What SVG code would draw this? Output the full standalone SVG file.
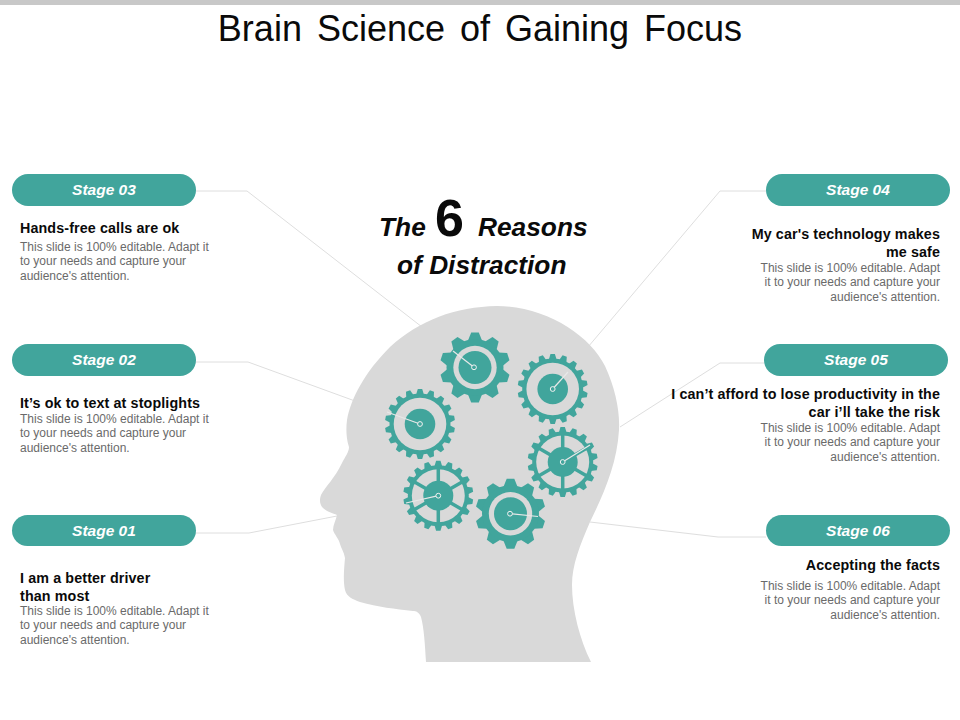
<svg xmlns="http://www.w3.org/2000/svg" width="960" height="720" viewBox="0 0 960 720">
<style>
text{font-family:"Liberation Sans",Arial,sans-serif}
.pill{fill:#41a59c}
.st{font-size:15.5px;font-weight:700;font-style:italic;fill:#fff;text-anchor:middle}
.h{font-size:14.3px;letter-spacing:.12px;font-weight:700;fill:#0a0a0a}
.b{font-size:12px;fill:#6a6a6a}
.r{text-anchor:end}
.c{font-size:26.300px;font-weight:700;font-style:italic;fill:#0a0a0a}
.con{fill:none;stroke:#dedede;stroke-width:1}
.t{fill:#41a59c}
.g{fill:#d9d9d9}
.spk{stroke:#41a59c;stroke-width:3.500}
.ptr{stroke:#e8e8e8;stroke-width:1.200;fill:none}
.hub{fill:#41a59c;stroke:#f2f2f2;stroke-width:1}
</style>
<defs>
<polygon id="toothA" class="t" points="-7,-27 -3.800,-35 3.800,-35 7,-27"/>
<polygon id="toothB" class="t" points="-4,-29 -2.200,-35 2.200,-35 4,-29"/>
<g id="teethA">
<use href="#toothA"/><use href="#toothA" transform="rotate(36)"/><use href="#toothA" transform="rotate(72)"/><use href="#toothA" transform="rotate(108)"/><use href="#toothA" transform="rotate(144)"/><use href="#toothA" transform="rotate(180)"/><use href="#toothA" transform="rotate(216)"/><use href="#toothA" transform="rotate(252)"/><use href="#toothA" transform="rotate(288)"/><use href="#toothA" transform="rotate(324)"/>
</g>
<g id="teethB">
<use href="#toothB"/><use href="#toothB" transform="rotate(20)"/><use href="#toothB" transform="rotate(40)"/><use href="#toothB" transform="rotate(60)"/><use href="#toothB" transform="rotate(80)"/><use href="#toothB" transform="rotate(100)"/><use href="#toothB" transform="rotate(120)"/><use href="#toothB" transform="rotate(140)"/><use href="#toothB" transform="rotate(160)"/><use href="#toothB" transform="rotate(180)"/><use href="#toothB" transform="rotate(200)"/><use href="#toothB" transform="rotate(220)"/><use href="#toothB" transform="rotate(240)"/><use href="#toothB" transform="rotate(260)"/><use href="#toothB" transform="rotate(280)"/><use href="#toothB" transform="rotate(300)"/><use href="#toothB" transform="rotate(320)"/><use href="#toothB" transform="rotate(340)"/>
</g>
<g id="gearA">
<use href="#teethA"/>
<circle class="t" r="28.500"/><circle class="g" r="21.700"/><circle class="t" r="16.500"/>
</g>
<g id="gearB">
<use href="#teethB"/>
<circle class="t" r="30.500"/><circle class="g" r="26.300"/><circle class="t" r="15.300"/>
</g>
<g id="gearC">
<use href="#teethB"/>
<circle class="t" r="30.500"/><circle class="g" r="26.500"/>
<path class="spk" d="M0-28V28M-24.200-14 24.200 14M-24.200 14 24.200-14"/>
<circle class="t" r="15"/>
</g>
</defs>
<rect width="960" height="5" fill="#c8c8c8"/>
<text x="480" y="41" font-size="36" fill="#0a0a0a" text-anchor="middle" word-spacing="5">Brain Science of Gaining Focus</text>

<g id="connectors">
<path class="con" d="M196 191H247L422 327"/>
<path class="con" d="M196 362H248L355 401"/>
<path class="con" d="M196 533H249L337 516"/>
<path class="con" d="M766 191H720L588 347"/>
<path class="con" d="M764 363H720L620 427"/>
<path class="con" d="M766 537H718L590 522"/>
</g>

<g id="head">
<path fill="#d9d9d9" d="M426 662C425 645 424 628 421 617C419 612 416 611 413 611C395 609 378 607 360 602C352 599 347 597 345 590C343 580 344 570 345 558C344 552 341 548 340 544C339 539 334 534 333 530C333 525 336 520 337 515C333 513 327 512 323 508C320 505 319 500 321 495C325 487 335 478 342 463C345 457 349 452 349 447C346 438 346 428 347 420C351 398 365 372 390 347C420 320 455 307 497 306C545 306 590 335 605 366C615 388 620 410 619 430C617 465 603 495 590 522C580 545 572 565 572 585C572 610 580 640 591 662Z"/>
</g>

<g id="gear-1"><use href="#gearA" x="475" y="367.500"/><path class="ptr" d="M474 367.300L453 351"/><circle class="hub" cx="474" cy="367.300" r="2.400"/></g>
<g id="gear-2"><use href="#gearB" x="552.700" y="389"/><path class="ptr" d="M552.700 389L568 372"/><circle class="hub" cx="552.700" cy="389" r="2.400"/></g>
<g id="gear-3"><use href="#gearB" x="420" y="424"/><path class="ptr" d="M420 424L387 412"/><circle class="hub" cx="420" cy="424" r="2.400"/></g>
<g id="gear-4"><use href="#gearC" x="562.700" y="462"/><path class="ptr" d="M562.700 462L590 445"/><circle class="hub" cx="562.700" cy="462" r="2.400"/></g>
<g id="gear-5"><use href="#gearC" x="438.300" y="495.700"/><path class="ptr" d="M438.300 495.700L406 503"/><circle class="hub" cx="438.300" cy="495.700" r="2.400"/></g>
<g id="gear-6"><use href="#gearA" x="510.500" y="513.700"/><path class="ptr" d="M510 513.700L538 516.500"/><circle class="hub" cx="510" cy="513.700" r="2.400"/></g>

<g id="center-title">
<text class="c" x="379" y="236">The</text>
<text x="435" y="236" font-size="52" font-weight="700" fill="#0a0a0a">6</text>
<text class="c" x="478" y="236">Reasons</text>
<text class="c" x="397" y="274">of Distraction</text>
</g>

<g id="stage-03">
<rect class="pill" x="12" y="174" width="184" height="32" rx="16"/>
<text class="st" x="104" y="195">Stage 03</text>
<text class="h" x="20" y="233">Hands-free calls are ok</text>
<text class="b" x="20" y="251">This slide is 100% editable. Adapt it</text>
<text class="b" x="20" y="265">to your needs and capture your</text>
<text class="b" x="20" y="280">audience's attention.</text>
</g>
<g id="stage-02">
<rect class="pill" x="12" y="344" width="184" height="32" rx="16"/>
<text class="st" x="104" y="365">Stage 02</text>
<text class="h" x="20" y="408">It’s ok to text at stoplights</text>
<text class="b" x="20" y="423">This slide is 100% editable. Adapt it</text>
<text class="b" x="20" y="437">to your needs and capture your</text>
<text class="b" x="20" y="452">audience's attention.</text>
</g>
<g id="stage-01">
<rect class="pill" x="12" y="515" width="184" height="31" rx="15.500"/>
<text class="st" x="104" y="536">Stage 01</text>
<text class="h" x="20" y="583">I am a better driver</text>
<text class="h" x="20" y="601">than most</text>
<text class="b" x="20" y="615">This slide is 100% editable. Adapt it</text>
<text class="b" x="20" y="629">to your needs and capture your</text>
<text class="b" x="20" y="644">audience's attention.</text>
</g>
<g id="stage-04">
<rect class="pill" x="766" y="174" width="184" height="32" rx="16"/>
<text class="st" x="858" y="195">Stage 04</text>
<text class="h r" x="940" y="239">My car's technology makes</text>
<text class="h r" x="940" y="257">me safe</text>
<text class="b r" x="940" y="272">This slide is 100% editable. Adapt</text>
<text class="b r" x="940" y="286">it to your needs and capture your</text>
<text class="b r" x="940" y="301">audience's attention.</text>
</g>
<g id="stage-05">
<rect class="pill" x="764" y="344" width="184" height="32" rx="16"/>
<text class="st" x="856" y="365">Stage 05</text>
<text class="h r" x="940" y="399">I can’t afford to lose productivity in the</text>
<text class="h r" x="940" y="417">car i’ll take the risk</text>
<text class="b r" x="940" y="432">This slide is 100% editable. Adapt</text>
<text class="b r" x="940" y="446">it to your needs and capture your</text>
<text class="b r" x="940" y="461">audience's attention.</text>
</g>
<g id="stage-06">
<rect class="pill" x="766" y="515" width="184" height="31" rx="15.500"/>
<text class="st" x="858" y="536">Stage 06</text>
<text class="h r" x="940" y="570">Accepting the facts</text>
<text class="b r" x="940" y="590">This slide is 100% editable. Adapt</text>
<text class="b r" x="940" y="604">it to your needs and capture your</text>
<text class="b r" x="940" y="619">audience's attention.</text>
</g>
</svg>
